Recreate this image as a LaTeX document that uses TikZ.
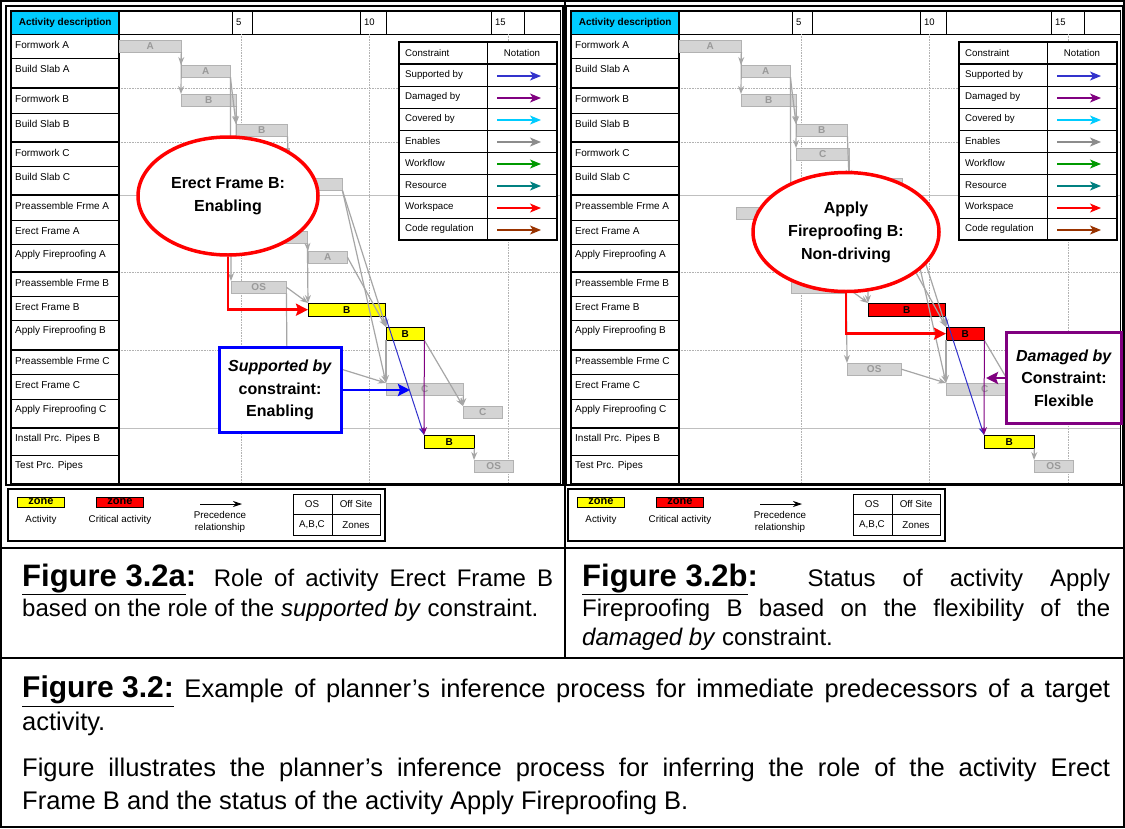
\documentclass[tikz,border=0pt]{standalone}
\usepackage{fontspec}
\setmainfont{Liberation Sans}
\usetikzlibrary{shapes,arrows,positioning,calc,arrows.meta}

\definecolor{headcyan}{RGB}{0,204,255}
\definecolor{zoneyel}{RGB}{255,255,0}
\definecolor{critred}{RGB}{255,0,0}
\definecolor{supblue}{RGB}{51,51,204}
\definecolor{dampurple}{RGB}{128,0,128}
\definecolor{covcyan}{RGB}{0,204,255}
\definecolor{enagray}{RGB}{140,140,140}
\definecolor{wfgreen}{RGB}{0,153,0}
\definecolor{resteal}{RGB}{0,128,128}
\definecolor{wsred}{RGB}{255,0,0}
\definecolor{codebrown}{RGB}{153,51,0}
\definecolor{boxblue}{RGB}{0,0,255}

% one schedule panel, #1 = fill of the Erect/Apply Frame B bars,
% #2-#4 = labels of bars that a note may cover (pfC, afA, paA)
\newcommand{\ganttpanel}[4]{%
  % chart frame
  \draw[line width=2pt] (6,6) rectangle (563,485);
  \draw[line width=0.8pt] (10,10) rectangle (560,483);

  % time scale
  \node[headcell] (head) at (11,11) {Activity description};
  \draw[line width=0.8pt] (119,11) rectangle (560,34);
  \foreach \xa/\xb/\n in {232/252/5, 360/386/10, 491/524/15} {
    \draw (\xa,11) -- (\xa,34) (\xb,11) -- (\xb,34);
    \node[ticklbl] (tick\n) at (\xa+4,22) {\n};
  }

  % grid lines
  \foreach \gx in {241,369,508}
    \draw[gridln] (\gx,34) -- (\gx,483);
  \foreach \gy in {88,142,272,350}
    \draw[gridln] (119,\gy) -- (560,\gy);
  \foreach \gy in {195,428}
    \draw[black!25] (119,\gy) -- (560,\gy);

  % activity list
  \foreach \ya/\yb/\txt [count=\i] in {34/58/Formwork A, 58/88/Build Slab A,
      88/113/Formwork B, 113/142/Build Slab B, 142/166/Formwork C,
      166/195/Build Slab C, 195/220/Preassemble Frme A, 220/244/Erect Frame A,
      244/272/Apply Fireproofing A, 272/296/Preassemble Frme B,
      296/320/Erect Frame B, 320/350/Apply Fireproofing B,
      350/374/Preassemble Frme C, 374/399/Erect Frame C,
      399/428/Apply Fireproofing C, 428/455/Install Prc. Pipes B,
      455/483/Test Prc. Pipes} {
    \draw (11,\ya) rectangle (119,\yb);
    \node[rowlbl] (row\i) at (15,\ya+11) {\txt};
  }
  \foreach \gy in {88,142,195,272,350,428}
    \draw[line width=1.6pt] (11,\gy) -- (119,\gy);
  \draw[line width=1.6pt] (119,11) -- (119,483);

  % constraint legend
  \draw[fill=white, line width=1.5pt] (399,42) rectangle (557,240);
  \draw (487,42) -- (487,240);
  \node[leglbl] (cons) at (405,53) {Constraint};
  \node[leglbl, anchor=center] (nota) at (522,53) {Notation};
  \foreach \c/\txt [count=\i] in {supblue/Supported by, dampurple/Damaged by,
      covcyan/Covered by, enagray/Enables, wfgreen/Workflow,
      resteal/Resource, wsred/Workspace, codebrown/Code regulation} {
    \draw (399,42+22*\i) -- (557,42+22*\i);
    \node[leglbl] (leg\i) at (405,53+22*\i) {\txt};
    \draw[legarrow, \c] (497,54+22*\i) -- (541,54+22*\i);
  }
  \draw[line width=1.5pt] (399,64) -- (557,64);

  % activities
  \node[gbar, minimum width=62] (fwA) at (119,40) {A};
  \node[gbar, minimum width=49] (bsA) at (181,65) {A};
  \node[gbar, minimum width=55] (fwB) at (181,94) {B};
  \node[gbar, minimum width=51] (bsB) at (236,124) {B};
  \node[gbar, minimum width=53] (fwC) at (236,148) {C};
  \node[gbar, minimum width=53] (bsC) at (289,178) {};
  \node[gbar, minimum width=54] (paA) at (176,207) {#4};
  \node[gbar, minimum width=52] (efA) at (255,231) {};
  \node[gbar, minimum width=39] (afA) at (308,251) {#3};
  \node[gbar, minimum width=55] (pfB) at (231,281) {OS};
  \node[actbar=#1, minimum width=77] (efB) at (308,303) {B};
  \node[actbar=#1, minimum width=38] (afB) at (386,327) {B};
  \node[gbar, minimum width=54] (pfC) at (287,363) {#2};
  \node[gbar, minimum width=77] (efC) at (386,383) {C};
  \node[gbar, minimum width=39] (afC) at (463,406) {C};
  \node[actbar=zoneyel, minimum width=50] (ipB) at (424,435) {B};
  \node[gbar, minimum width=39] (tpP) at (474,460) {OS};

  % precedence
  \draw[prec] (fwA.south east) -- (bsA.north west);
  \draw[prec] (fwA.south east) -- (fwB.north west);
  \draw[prec] (bsA.south east) -- (bsB.north west);
  \draw[prec] (bsA.south east) -- (pfB.north west);
  \draw[prec] (fwB.south east) -- (bsB.north west);
  \draw[prec] (fwB.south east) -- (fwC.north west);
  \draw[prec] (bsB.south east) -- (bsC.north west);
  \draw[prec] (fwC.south east) -- (bsC.north west);
  \draw[prec] (paA.south east) -- (efA.north west);
  \draw[prec] (efA.south east) -- (afA.north west);
  \draw[prec] (efA.south east) -- (efB.north west);
  \draw[prec] (pfB.east) -- (efB.north west);
  \draw[prec] (pfB.south east) -- (pfC.north west);
  \draw[prec] (bsC.south east) -- (afB.north west);
  \draw[prec] (bsC.south east) -- (efC.north west);
  \draw[prec] (afA.east) -- (afB.north west);
  \draw[prec] (efB.south east) -- (afB.north west);
  \draw[prec] (afB.south west) -- (efC.north west);
  \draw[prec] (pfC.east) -- (efC.north west);
  \draw[prec] (efC.south east) -- (afC.north west);
  \draw[prec] (afB.south east) -- (afC.north west);
  \draw[prec] (ipB.south east) -- (tpP.north west);

  % constraints
  \draw[link, supblue] (efB.south east) -- (ipB.north west);
  \draw[link, dampurple] (afB.south east) -- (ipB.north west);

  % key
  \draw[line width=1.5pt] (8,489) rectangle (385,541);
  \node[zonebox, fill=zoneyel] (zoneA) at (41,502) {zone};
  \node[smalltxt] (zoneAl) at (41,520) {Activity};
  \node[zonebox, fill=critred] (zoneC) at (120,502) {zone};
  \node[smalltxt] (zoneCl) at (120,520) {Critical activity};
  \coordinate (precA) at (200,504);
  \coordinate (precB) at (242,504);
  \draw[line width=0.8pt, -{Stealth[length=9pt,width=6pt]}] (precA) -- (precB);
  \node[smalltxt, align=center] (precl) at (220,522) {Precedence\\relationship};
  \draw (293,494) rectangle (380,535);
  \draw (332,494) -- (332,535) (293,514) -- (380,514);
  \node[smalltxt] (keyOS) at (312,504) {OS};
  \node[smalltxt] (keyOff) at (356,504) {Off Site};
  \node[smalltxt] (keyABC) at (312,525) {A,B,C};
  \node[smalltxt] (keyZ) at (356,525) {Zones};
}

\begin{document}
\begin{tikzpicture}[x=1pt, y=-1pt,
    every node/.style={inner sep=0pt},
    headcell/.style={anchor=north west, draw, fill=headcyan, minimum width=108,
      minimum height=23, font=\fontsize{10}{10}\selectfont\bfseries},
    ticklbl/.style={anchor=west, font=\fontsize{9.5}{10}\selectfont},
    rowlbl/.style={anchor=west, font=\fontsize{10}{10}\selectfont},
    leglbl/.style={anchor=west, font=\fontsize{9.7}{10}\selectfont},
    smalltxt/.style={font=\fontsize{9.8}{12}\selectfont},
    gridln/.style={black!30, densely dotted, line width=0.6pt},
    legarrow/.style={line width=1.5pt, -{Stealth[length=11pt,width=9pt,inset=3pt]}},
    gbar/.style={anchor=north west, draw=black!30, fill=black!17,
      minimum height=12, font=\fontsize{10}{10}\selectfont\bfseries, text=black!40},
    actbar/.style={gbar, draw=black, fill=#1, text=black, minimum height=13},
    prec/.style={black!35, line width=1.2pt, -{Stealth[length=8pt,width=6pt]}},
    link/.style={line width=1pt, -{Stealth[length=8pt,width=6pt]}},
    zonebox/.style={draw, minimum width=47, minimum height=10,
      font=\fontsize{11}{10}\selectfont\bfseries},
    bubble/.style={ellipse, draw=red, line width=3.5pt, fill=white, align=center,
      font=\fontsize{16}{23}\selectfont\bfseries},
    notebox/.style={rectangle, line width=3pt, fill=white, align=center,
      font=\fontsize{16}{22.5}\selectfont\bfseries},
    hiarrow/.style={line width=2.6pt, -{Stealth[length=12pt,width=12pt,inset=2pt]}},
    capnode/.style={anchor=north west, align=justify,
      font=\fontsize{24}{29.5}\selectfont}]

    \useasboundingbox (0,0) rectangle (1125,828);
    \fill[white] (0,0) rectangle (1125,828);

    % the two schedules
    \begin{scope}[name prefix=L-]
      \ganttpanel{zoneyel}{}{A}{}
    \end{scope}
    \begin{scope}[xshift=560, name prefix=R-]
      \ganttpanel{critred}{OS}{}{OS}
    \end{scope}

    % Figure 3.2a notes
    \node[bubble, minimum width=180, minimum height=118] (callL) at (228,196)
      {Erect Frame B:\\Enabling};
    \draw[hiarrow, red] (callL.south) |- (L-efB.west);
    \node[notebox, draw=boxblue, minimum width=122, minimum height=85] (supL) at (280,390)
      {\textit{Supported by}\\constraint:\\Enabling};
    \coordinate (supT) at (410,390);
    \draw[hiarrow, boxblue] (supL.east) -- (supT);

    % Figure 3.2b notes
    \node[bubble, minimum width=186, minimum height=119] (callR) at (846,232)
      {Apply\\Fireproofing B:\\Non-driving};
    \draw[hiarrow, red] (callR.south) |- (R-afB.west);
    \node[notebox, draw=dampurple, minimum width=115, minimum height=91] (damR) at (1064,378)
      {\textit{Damaged by}\\Constraint:\\Flexible};
    \coordinate (damT) at (986,378);
    \draw[hiarrow, dampurple] (damR.west) -- (damT);

    % table lines
    \draw[line width=1.5pt] (1,1) rectangle (1124,827);
    \draw[line width=1.5pt] (565,1) -- (565,658);
    \draw[line width=1.5pt] (1,548) -- (1124,548);
    \draw[line width=1.5pt] (1,658) -- (1124,658);

    % captions
    \node[capnode, text width=531] (capA) at (22,564)
      {{\fontsize{31}{29.5}\selectfont\bfseries\underline{Figure 3.2a}:}
       Role of activity Erect Frame B\linebreak
       based on the role of the \textit{supported by} constraint.};
    \node[capnode, text width=528] (capB) at (582,564)
      {{\fontsize{31}{29.5}\selectfont\bfseries\underline{Figure 3.2b}:}
       Status of activity Apply\linebreak
       Fireproofing B based on the flexibility of the\linebreak
       \textit{damaged by} constraint.};
    \node[capnode, text width=1088, font=\fontsize{25.5}{33}\selectfont] (capM) at (22,676)
      {{\fontsize{30}{33}\selectfont\bfseries\underline{Figure 3.2:}}
       Example of planner's inference process for immediate predecessors of a target\linebreak
       activity.\par\vspace{13pt}
       Figure illustrates the planner's inference process for inferring the role of the activity Erect\linebreak
       Frame B and the status of the activity Apply Fireproofing B.};
\end{tikzpicture}
\end{document}
